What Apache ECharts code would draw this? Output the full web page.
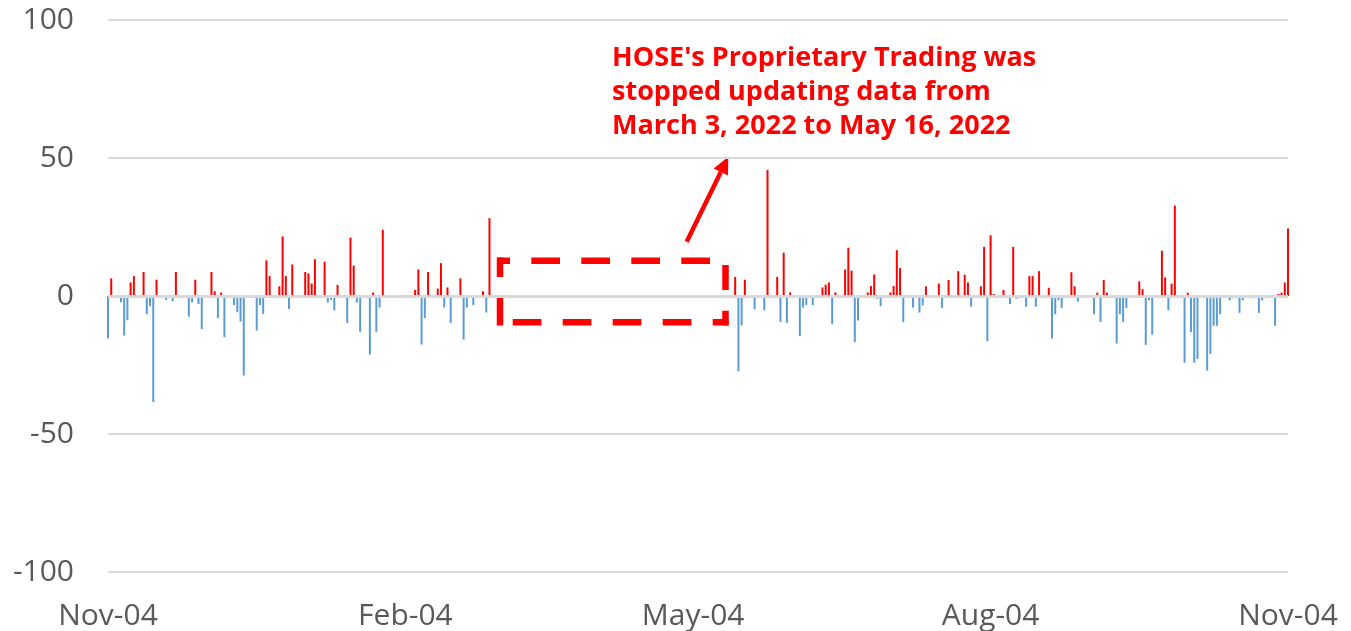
<!DOCTYPE html>
<html>
<head>
<meta charset="utf-8">
<script src="https://cdn.jsdelivr.net/npm/echarts@6/dist/echarts.min.js"></script>
<style>
html, body { margin: 0; padding: 0; background: #fff; }
#chart { width: 1351px; height: 631px; }
</style>
</head>
<body>
<div id="chart"></div>
<script>
// trading days (net value per day)
var tradeDates = [
	'2021-11-04', '2021-11-05', '2021-11-08', '2021-11-09', '2021-11-10', '2021-11-11', '2021-11-12', '2021-11-15', '2021-11-16', '2021-11-17', '2021-11-18', '2021-11-19', '2021-11-22', '2021-11-24', '2021-11-25', '2021-11-29', '2021-11-30',
	'2021-12-01', '2021-12-02', '2021-12-03', '2021-12-06', '2021-12-07', '2021-12-08', '2021-12-09', '2021-12-10', '2021-12-13', '2021-12-14', '2021-12-15', '2021-12-16', '2021-12-20', '2021-12-21', '2021-12-22', '2021-12-23', '2021-12-24', '2021-12-27', '2021-12-28', '2021-12-29', '2021-12-30', '2021-12-31',
	'2022-01-04', '2022-01-05', '2022-01-06', '2022-01-07', '2022-01-10', '2022-01-11', '2022-01-12', '2022-01-13', '2022-01-14', '2022-01-17', '2022-01-18', '2022-01-19', '2022-01-20', '2022-01-21', '2022-01-24', '2022-01-25', '2022-01-26', '2022-01-27', '2022-01-28',
	'2022-02-07', '2022-02-08', '2022-02-09', '2022-02-10', '2022-02-11', '2022-02-14', '2022-02-15', '2022-02-16', '2022-02-17', '2022-02-18', '2022-02-21', '2022-02-22', '2022-02-23', '2022-02-25', '2022-02-28',
	'2022-03-01', '2022-03-02',
	'2022-05-17', '2022-05-18', '2022-05-19', '2022-05-20', '2022-05-23', '2022-05-26', '2022-05-27', '2022-05-30', '2022-05-31',
	'2022-06-01', '2022-06-02', '2022-06-03', '2022-06-06', '2022-06-07', '2022-06-08', '2022-06-10', '2022-06-13', '2022-06-14', '2022-06-15', '2022-06-16', '2022-06-17', '2022-06-20', '2022-06-21', '2022-06-22', '2022-06-23', '2022-06-24', '2022-06-27', '2022-06-28', '2022-06-29', '2022-06-30',
	'2022-07-01', '2022-07-04', '2022-07-05', '2022-07-06', '2022-07-07', '2022-07-08', '2022-07-11', '2022-07-13', '2022-07-14', '2022-07-15', '2022-07-19', '2022-07-20', '2022-07-22', '2022-07-25', '2022-07-27', '2022-07-28', '2022-07-29',
	'2022-08-01', '2022-08-02', '2022-08-03', '2022-08-04', '2022-08-05', '2022-08-08', '2022-08-10', '2022-08-11', '2022-08-12', '2022-08-15', '2022-08-16', '2022-08-17', '2022-08-18', '2022-08-19', '2022-08-22', '2022-08-23', '2022-08-24', '2022-08-25', '2022-08-26', '2022-08-29', '2022-08-30', '2022-08-31',
	'2022-09-05', '2022-09-06', '2022-09-07', '2022-09-08', '2022-09-09', '2022-09-12', '2022-09-13', '2022-09-14', '2022-09-15', '2022-09-19', '2022-09-20', '2022-09-21', '2022-09-22', '2022-09-23', '2022-09-26', '2022-09-27', '2022-09-28', '2022-09-29', '2022-09-30',
	'2022-10-03', '2022-10-04', '2022-10-05', '2022-10-06', '2022-10-07', '2022-10-10', '2022-10-11', '2022-10-12', '2022-10-13', '2022-10-14', '2022-10-17', '2022-10-18', '2022-10-19', '2022-10-20', '2022-10-21', '2022-10-24', '2022-10-25', '2022-10-26', '2022-10-27', '2022-10-28', '2022-10-31',
	'2022-11-01', '2022-11-02', '2022-11-03', '2022-11-04'
];
var netValues = [
	-15.3, 6.4, -2.3, -14.3, -8.8, 4.9, 7.2, 8.7, -6.6, -3.7, -38.4, 5.9, -1.4, -1.9, 8.7, -7.5, -2.3,
	5.9, -2.9, -12, 8.7, 1.7, -8, 1.2, -14.9, -3.3, -5.9, -9.3, -28.8, -12.5, -3.3, -6.5, 12.9, 7.2, 3.5, 21.6, 7.2, -4.7, 11.4,
	8.7, 8.2, 4.5, 13.3, 12.4, -2.4, -1.4, -5.2, 4.0, -9.8, 21.2, 11, -2.4, -13, -21.2, 1.2, -13, -4.2, 24,
	2.2, 9.6, -17.6, -8, 8.7, 2.7, 11.9, -4.2, 3.1, -9.8, 6.4, -15.8, -4.2, -3.3, 1.7,
	-6, 28.2,
	6.9, -27.3, -10.7, 5.9, -4.8, -5.2, 45.7, 6.9, -9.4,
	15.7, -9.8, 1.3, -14.5, -4.2, -3.3, -3.3, 3.1, 4.1, 4.9, -10.2, 1.3, 9.6, 17.5, 9.2, -16.7, -8.9, 1.3, 3.6, 7.8, -1,
	-3.7, 1.3, 3.6, 16.6, 10.1, -9.4, -4.2, -6, -3.4, 3.5, 4.5, -4.3, 5.8, 9, 7.7, 4.9, -3.9,
	3.5, 17.8, -16.4, 22, 0.7, 2.2, -2.9, 17.8, -1, -3.9, 7.2, 7.2, -3.9, 9, 3, -15.4, -6.6, -1.6, -4.3, 8.6, 3.5, -2,
	-6.6, 1.2, -9.4, 5.8, 1.2, -17.2, -6.6, -9.4, -4.3, 5.3, 2.5, -17.7, -1.6, -14, 16.4, 6.7, -5.2, 4.5, 32.7,
	-24.2, 1.2, -13.1, -24.2, -22.8, -27, -21, -10.8, -10.8, -6.6, -1.6, -0.8, -0.8, -6.1, -1.6, -0.8, -0.8, -6.1, -1.6, -0.8, -10.8,
	0.7, 1.2, 4.9, 24.5
];
var xTickDates = ['2021-11-04', '2022-02-04', '2022-05-04', '2022-08-04', '2022-11-04'];
var xTickLabels = ['Nov-04', 'Feb-04', 'May-04', 'Aug-04', 'Nov-04'];
var yTicks = [-100, -50, 0, 50, 100];
var noteLines = [
	"HOSE's Proprietary Trading was",
	'stopped updating data from',
	'March 3, 2022 to May 16, 2022'
];

var POS_COLOR = '#ff0000';
var NEG_COLOR = '#5b9bd5';
var GRID_COLOR = '#d9d9d9';
var LABEL_COLOR = '#595959';
var NOTE_COLOR = '#ff0000';

function toTime(s) {
	return echarts.time.parse(s).getTime();
}

var seriesData = [];
for (var i = 0; i < tradeDates.length; i++) {
	seriesData.push([toTime(tradeDates[i]), netValues[i]]);
}
var tickTimes = xTickDates.map(toTime);

// arrow from the box up to the note
var arrowFrom = [686.7, 241.7];
var arrowTip = [728.3, 156.7];
var dx = arrowTip[0] - arrowFrom[0], dy = arrowTip[1] - arrowFrom[1];
var len = Math.sqrt(dx * dx + dy * dy);
var ux = dx / len, uy = dy / len;
var headLen = 17, headHalf = 8;
var bx = arrowTip[0] - ux * headLen, by = arrowTip[1] - uy * headLen;

// dashed box, one side at a time (excel restarts the dash at corners)
function boxSide(x1, y1, x2, y2, dash, offset) {
	return {
		type: 'line',
		silent: true,
		shape: { x1: x1, y1: y1, x2: x2, y2: y2 },
		style: {
			stroke: NOTE_COLOR,
			lineWidth: 6.5,
			lineDash: dash,
			lineDashOffset: offset
		}
	};
}

var myChart = echarts.init(document.getElementById('chart'));
var option = {
	animation: false,
	backgroundColor: '#ffffff',
	grid: {
		left: 108,
		right: 63,
		top: 20,
		bottom: 58
	},
	xAxis: {
		type: 'value',
		min: tickTimes[0],
		max: tickTimes[tickTimes.length - 1],
		axisLine: { show: false },
		axisTick: { show: false },
		splitLine: { show: false },
		axisLabel: {
			customValues: tickTimes,
			margin: 29,
			color: LABEL_COLOR,
			fontSize: 30,
			fontFamily: '"Open Sans"',
			formatter: function(val) {
				for (var k = 0; k < tickTimes.length; k++) {
					if (Math.abs(tickTimes[k] - val) < 43200000) {
						return xTickLabels[k];
					}
				}
				return '';
			}
		}
	},
	yAxis: {
		type: 'value',
		min: yTicks[0],
		max: yTicks[yTicks.length - 1],
		interval: 50,
		axisLine: { show: false },
		axisTick: { show: false },
		axisLabel: {
			margin: 34,
			color: LABEL_COLOR,
			fontSize: 30,
			fontFamily: '"Open Sans"'
		},
		splitLine: {
			lineStyle: { color: GRID_COLOR, width: 2 }
		}
	},
	series: [{
		type: 'bar',
		data: seriesData,
		barWidth: 2,
		itemStyle: {
			color: function(p) {
				return p.value[1] >= 0 ? POS_COLOR : NEG_COLOR;
			}
		},
		markLine: {
			silent: true,
			symbol: 'none',
			label: { show: false },
			lineStyle: { color: GRID_COLOR, width: 3, type: 'solid' },
			data: [{ yAxis: 0 }]
		}
	}],
	graphic: [
		boxSide(497, 260.7, 728.5, 260.7, [28.7, 21.3], 15.7),
		boxSide(725.5, 258, 725.5, 325.5, [25, 20.7], 38.7),
		boxSide(497, 322.3, 728.5, 322.3, [28.7, 21.3], 34.3),
		boxSide(500, 257.5, 500, 325.5, [19.5, 20, 40, 10], 0),
		{
			type: 'line',
			silent: true,
			shape: { x1: arrowFrom[0], y1: arrowFrom[1], x2: bx, y2: by },
			style: { stroke: NOTE_COLOR, lineWidth: 4.5 }
		},
		{
			type: 'polygon',
			silent: true,
			shape: {
				points: [
					arrowTip,
					[bx - uy * headHalf, by + ux * headHalf],
					[bx + uy * headHalf, by - ux * headHalf]
				]
			},
			style: { fill: NOTE_COLOR }
		},
		{
			type: 'text',
			silent: true,
			x: 612,
			y: 41,
			style: {
				text: noteLines.join('\n'),
				fill: NOTE_COLOR,
				fontSize: 27,
				fontWeight: 'bold',
				fontFamily: '"Open Sans"',
				lineHeight: 34,
				verticalAlign: 'top'
			}
		}
	]
};
myChart.setOption(option);
</script>
</body>
</html>
